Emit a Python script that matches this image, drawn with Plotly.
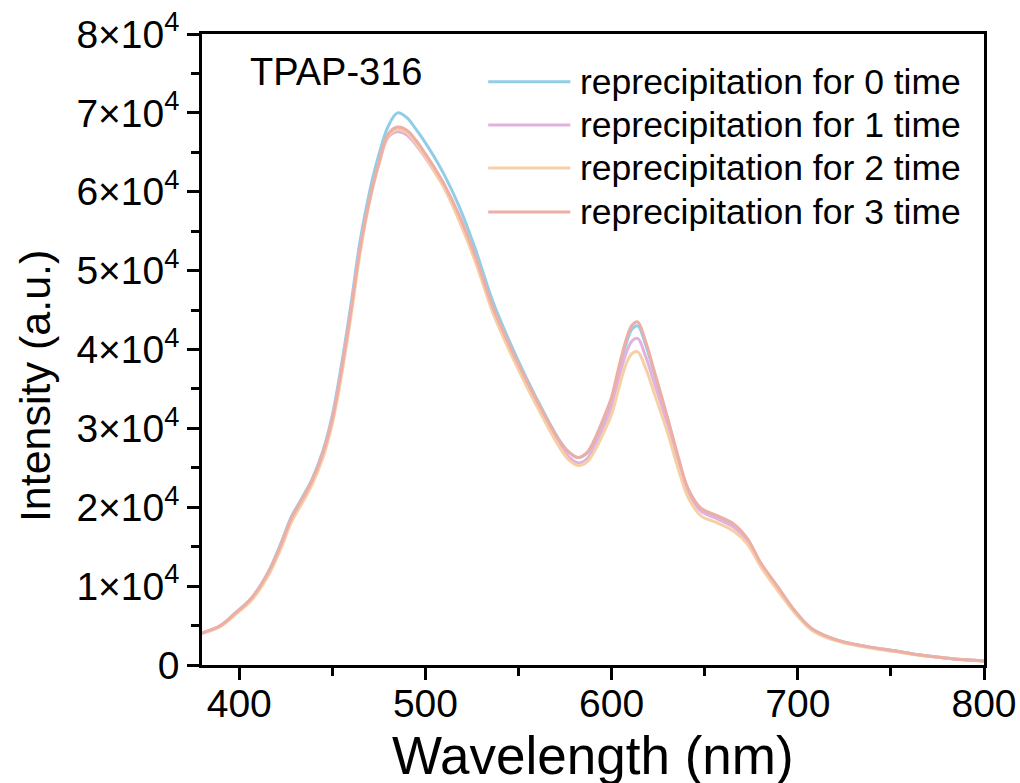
import plotly.graph_objects as go

wavelength = [380, 390, 398, 407, 416, 423, 428, 434, 439, 445,
              450, 455, 460, 465, 470, 475, 480, 485, 490, 495,
              500, 505, 510, 518, 527, 536, 545, 554, 563, 572,
              577, 582, 587, 591, 596, 600, 604, 608, 611, 614,
              618, 623, 630, 636, 641, 648, 657, 666, 673, 680,
              689, 698, 707, 715, 725, 738, 752, 765, 779, 790, 800]

rep0 = [4050, 5000, 6600, 8600, 12000, 15800, 18800, 21300, 23500, 27200,
        31700, 38200, 45700, 53900, 60000, 64700, 68300, 70000, 69400, 67900,
        66200, 64300, 62200, 58200, 52600, 46200, 41100, 36500, 32300, 28500,
        27000, 26300, 26900, 28500, 31200, 33600, 37400, 40900, 42600, 43000,
        40800, 36900, 31200, 26000, 22300, 19700, 18700, 17600, 15900, 12900,
        9900, 6900, 4700, 3700, 2900, 2300, 1800, 1300, 900, 650, 500]

rep1 = [4050, 5000, 6600, 8600, 11900, 15600, 18600, 21100, 23300, 26900,
        31300, 37600, 45000, 53000, 59000, 63500, 66900, 67600, 67200, 65900,
        64300, 62500, 60600, 56700, 51400, 45200, 40300, 35900, 31700, 27900,
        26400, 25600, 26200, 27800, 30400, 32800, 36500, 39700, 41100, 41400,
        39300, 35700, 30500, 25500, 22000, 19500, 18500, 17400, 15700, 12800,
        9800, 6900, 4600, 3600, 2900, 2300, 1800, 1300, 900, 650, 500]

rep2 = [4000, 4900, 6400, 8300, 11500, 15100, 18100, 20600, 22800, 26300,
        30600, 36800, 44200, 52400, 58700, 63500, 67100, 67900, 67500, 66100,
        64400, 62500, 60500, 56400, 51000, 44800, 39900, 35500, 31400, 27600,
        26000, 25300, 25800, 27200, 29600, 31800, 35200, 38300, 39500, 39700,
        37800, 34400, 29500, 24700, 21300, 18900, 18000, 16900, 15300, 12500,
        9500, 6700, 4500, 3500, 2800, 2200, 1700, 1250, 880, 640, 490]

rep3 = [4050, 5000, 6600, 8600, 11900, 15600, 18600, 21100, 23300, 26900,
        31200, 37500, 44900, 52900, 59000, 63700, 67300, 68200, 67800, 66500,
        64800, 63000, 61000, 57100, 51700, 45500, 40600, 36200, 32100, 28400,
        27000, 26300, 27000, 28700, 31500, 34000, 37900, 41400, 43100, 43500,
        41200, 37200, 31400, 26200, 22400, 19900, 18900, 17800, 16000, 13000,
        10000, 7000, 4700, 3700, 2900, 2300, 1800, 1300, 900, 650, 500]

series_names = ["reprecipitation for 0 time", "reprecipitation for 1 time",
                "reprecipitation for 2 time", "reprecipitation for 3 time"]
series_values = [rep0, rep1, rep2, rep3]
series_colors = ["#92CDE8", "#E2B1DD", "#F7CFA6", "#EDAEA5"]

x_tickvals = [400, 500, 600, 700, 800]
y_tickvals = [0, 10000, 20000, 30000, 40000, 50000, 60000, 70000, 80000]
y_ticktext = ["0"] + [f"{i}×10<sup>4</sup>" for i in range(1, 9)]

FONT = "Liberation Sans, Arial, sans-serif"

fig = go.Figure()
for name, vals, col in zip(series_names, series_values, series_colors):
    fig.add_trace(go.Scatter(x=wavelength, y=vals, mode="lines", name=name,
                             line=dict(color=col, width=3, shape="spline", smoothing=1.0),
                             showlegend=False))

# manual legend (long line samples like the reference)
leg_y = [0.9244, 0.8558, 0.7876, 0.7179]
for name, col, yy in zip(series_names, series_colors, leg_y):
    fig.add_shape(type="line", xref="paper", yref="paper", x0=0.366, x1=0.471,
                  y0=yy, y1=yy, line=dict(color=col, width=3))
    fig.add_annotation(xref="paper", yref="paper", x=0.481, y=yy, text=name,
                       showarrow=False, xanchor="left", yanchor="middle",
                       font=dict(family=FONT, size=35.5, color="black"))

fig.add_annotation(xref="paper", yref="paper", x=0.059, y=0.94, text="TPAP-316",
                   showarrow=False, xanchor="left", yanchor="middle",
                   font=dict(family=FONT, size=38, color="black"))

# axis titles
fig.add_annotation(xref="paper", yref="paper", x=0, y=0.442, xshift=-167,
                   text="Intensity (a.u.)", textangle=-90, showarrow=False,
                   xanchor="center", yanchor="middle",
                   font=dict(family=FONT, size=43, color="black"))
fig.add_annotation(xref="paper", yref="paper", x=0.5, y=0, yshift=-59,
                   text="Wavelength (nm)", showarrow=False,
                   xanchor="center", yanchor="top",
                   font=dict(family=FONT, size=53, color="black"))

axis_common = dict(showline=True, linecolor="black", linewidth=2.5, mirror=True,
                   ticks="outside", ticklen=12, tickwidth=2.5, tickcolor="black",
                   showgrid=False, zeroline=False, automargin=False,
                   tickfont=dict(family=FONT, size=39, color="black"))

fig.update_layout(
    width=1020, height=783,
    margin=dict(l=202, r=36, t=34, b=118),
    paper_bgcolor="white", plot_bgcolor="white",
    xaxis=dict(range=[380, 800], tickvals=x_tickvals, ticklabelstandoff=-10,
               minor=dict(dtick=50, tick0=350, ticks="outside", ticklen=8,
                          tickwidth=2.5, tickcolor="black", showgrid=False),
               **axis_common),
    yaxis=dict(range=[0, 80000], tickvals=y_tickvals, ticktext=y_ticktext,
               minor=dict(dtick=5000, ticks="outside", ticklen=8,
                          tickwidth=2.5, tickcolor="black", showgrid=False),
               **axis_common),
)

fig.write_html("out.html")
